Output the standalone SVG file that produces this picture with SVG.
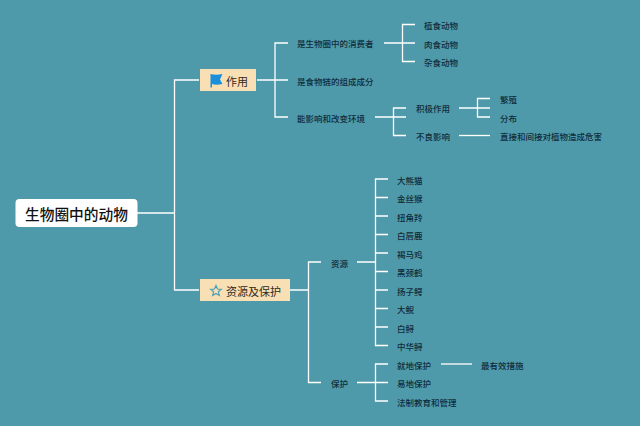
<svg xmlns="http://www.w3.org/2000/svg" width="640" height="426" viewBox="0 0 640 426">
<style>
text{font-family:"Noto Sans CJK SC","Noto Sans",sans-serif;dominant-baseline:central}
.l{font-size:8.5px;fill:#0f2c3a;font-weight:500}
.m{font-size:11px;fill:#2e2a22}
.r{font-size:14.700px;fill:#111;font-weight:500}
.b{fill:#f9dfb4}
#connectors path{fill:none;stroke:#fff;stroke-width:1.3}
</style>
<rect width="640" height="426" fill="#4f9aaa"/>
<g id="connectors">
<path d="M137 213H174.5M199 80H174.5V290H199"/>
<path d="M257 80H288M288 43H275V117H288"/>
<path d="M384 43H415M415 24.5H402.500V61.500H415"/>
<path d="M375 117H406M406 108H393.500V135.500H406"/>
<path d="M459 108H490M490 98.500H477.500V117H490"/>
<path d="M459 135.500H490"/>
<path d="M290 290H308.500M321 262H308.500V382.500H321"/>
<path d="M357 262H375.500M388 179H375.500V345.500H388M375.500 197.500H388M375.500 216H388M375.500 234.500H388M375.500 253H388M375.500 271.500H388M375.500 290H388M375.500 308.500H388M375.500 327H388"/>
<path d="M357 382.500H388M388 364H375.500V401H388"/>
<path d="M441 364H472"/>
</g>
<g id="root"><rect x="15.500" y="199" width="122" height="28" rx="4" fill="#fff"/><text class="r" x="25" y="213.500">生物圈中的动物</text></g>
<g id="zuoyong"><rect class="b" x="200" y="69" width="56" height="22"/><path d="M210.500 74Q216 75.500 222.500 74L220 79.500L222.500 84Q216 85.500 212 84V87.500H210.500Z" fill="#1c8fdc"/><text class="m" x="226" y="80.500">作用</text></g>
<g id="ziyuan"><rect class="b" x="200" y="279" width="90" height="22"/><path d="M216 285.500L217.500 289L221.300 289.300L218.400 291.800L219.300 295.500L216 293.500L212.700 295.500L213.600 291.800L210.700 289.300L214.500 289Z" fill="none" stroke="#4f9fb8" stroke-width="1.200"/><text class="m" x="226" y="290.500">资源及保护</text></g>
<g id="n1"><text class="l" x="297" y="43">是生物圈中的消费者</text></g>
<g id="n2"><text class="l" x="297" y="80.500">是食物链的组成成分</text></g>
<g id="n3"><text class="l" x="297" y="117.500">能影响和改变环境</text></g>
<g id="n4"><text class="l" x="424" y="25">植食动物</text></g>
<g id="n5"><text class="l" x="424" y="43.500">肉食动物</text></g>
<g id="n6"><text class="l" x="424" y="62">杂食动物</text></g>
<g id="n7"><text class="l" x="416" y="108">积极作用</text></g>
<g id="n8"><text class="l" x="416" y="136">不良影响</text></g>
<g id="n9"><text class="l" x="500" y="99">繁殖</text></g>
<g id="n10"><text class="l" x="500" y="117.500">分布</text></g>
<g id="n11"><text class="l" x="500" y="136">直接和间接对植物造成危害</text></g>
<g id="n12"><text class="l" x="331" y="262.500">资源</text></g>
<g id="n13"><text class="l" x="331" y="383">保护</text></g>
<g id="n14"><text class="l" x="397" y="179.500">大熊猫</text></g>
<g id="n15"><text class="l" x="397" y="198">金丝猴</text></g>
<g id="n16"><text class="l" x="397" y="216.500">扭角羚</text></g>
<g id="n17"><text class="l" x="397" y="235">白唇鹿</text></g>
<g id="n18"><text class="l" x="397" y="253.500">褐马鸡</text></g>
<g id="n19"><text class="l" x="397" y="272">黑颈鹤</text></g>
<g id="n20"><text class="l" x="397" y="290.500">扬子鳄</text></g>
<g id="n21"><text class="l" x="397" y="309">大鲵</text></g>
<g id="n22"><text class="l" x="397" y="327.500">白鲟</text></g>
<g id="n23"><text class="l" x="397" y="346">中华鲟</text></g>
<g id="n24"><text class="l" x="397" y="364.500">就地保护</text></g>
<g id="n25"><text class="l" x="397" y="383">易地保护</text></g>
<g id="n26"><text class="l" x="397" y="401.500">法制教育和管理</text></g>
<g id="n27"><text class="l" x="481" y="364.500">最有效措施</text></g>
</svg>
